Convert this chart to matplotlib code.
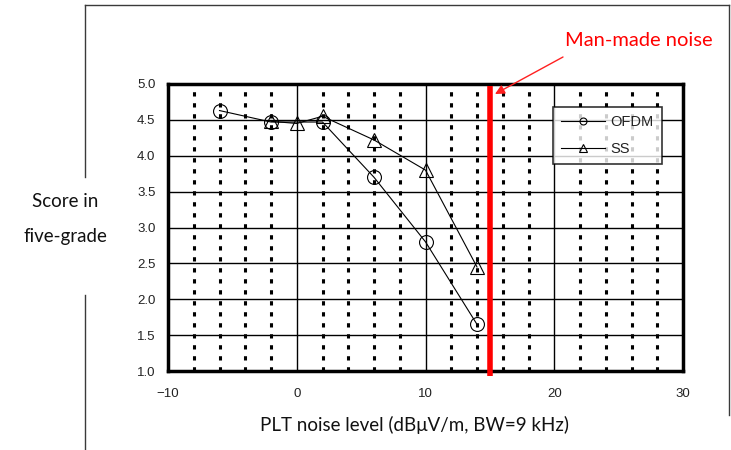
import matplotlib
matplotlib.use("Agg")
import matplotlib.pyplot as plt
from matplotlib.lines import Line2D
import numpy as np

# Data
ofdm_x = [-6, -2, 2, 6, 10, 14]
ofdm_y = [4.63, 4.47, 4.47, 3.70, 2.80, 1.65]
ss_x = [-2, 0, 2, 6, 10, 14]
ss_y = [4.48, 4.45, 4.55, 4.22, 3.80, 2.45]
man_made_x = 15
xticks = [-10, 0, 10, 20, 30]
yticks = [1.0, 1.5, 2.0, 2.5, 3.0, 3.5, 4.0, 4.5, 5.0]
minor_x = [v for v in range(-8, 30, 2) if v % 10 != 0]

W, H = 731, 450
fig = plt.figure(figsize=(W / 100, H / 100), dpi=100)
fig.patch.set_facecolor("white")

def fx(px):
    return px / W

def fy(py):
    return 1 - py / H

# outer frame
frame_kw = dict(color="#3a3a3a", lw=1.0, transform=fig.transFigure, clip_on=False)
fig.add_artist(Line2D([fx(85), fx(729)], [fy(5), fy(5)], **frame_kw))
fig.add_artist(Line2D([fx(729), fx(729)], [fy(5), fy(415)], **frame_kw))
fig.add_artist(Line2D([fx(85), fx(85)], [fy(5), fy(177)], **frame_kw))
fig.add_artist(Line2D([fx(85), fx(85)], [fy(295), fy(450)], **frame_kw))

left, right, top, bottom = 168, 683, 84, 371
ax = fig.add_axes([fx(left), fy(bottom), (right - left) / W, (bottom - top) / H])
ax.set_xlim(-10, 30)
ax.set_ylim(1.0, 5.0)

# grid
for v in minor_x:
    ax.axvline(v, color="black", lw=2.2, ls=(0, (1.4, 2.2)), zorder=1)
for v in xticks[1:-1]:
    ax.axvline(v, color="black", lw=1.0, zorder=1)
for v in yticks[1:-1]:
    ax.axhline(v, color="black", lw=1.0, zorder=1)

for s in ax.spines.values():
    s.set_linewidth(2.5)
    s.set_color("black")

ax.plot(ofdm_x, ofdm_y, color="black", lw=0.8, marker="o", ms=10,
        mfc="none", mec="black", mew=0.8, zorder=3)
ax.plot(ss_x, ss_y, color="black", lw=0.8, marker="^", ms=10,
        mfc="none", mec="black", mew=0.8, zorder=3)

ax.plot([man_made_x, man_made_x], [0.93, 4.97], color="#ff0000", lw=4.0,
        solid_capstyle="butt", clip_on=False, zorder=4)

ax.set_xticks(xticks)
ax.set_yticks(yticks)
ax.set_xticklabels([f"{v}" if v >= 0 else f"\u2212{-v}" for v in xticks],
                   fontfamily="Liberation Sans", fontsize=9.5, color="#222222")
ax.set_yticklabels([f"{v:.1f}" for v in yticks],
                   fontfamily="Liberation Sans", fontsize=9.5, color="#222222")
ax.tick_params(axis="y", length=0, pad=9)
ax.tick_params(axis="x", length=0, pad=12)

# legend
h1 = Line2D([], [], color="black", lw=0.8, marker="o", ms=5, mfc="none", mew=0.8)
h2 = Line2D([], [], color="black", lw=0.8, marker="^", ms=6, mfc="none", mew=0.8)
leg = ax.legend([h1, h2], ["OFDM", "SS"], loc="upper left",
                bbox_to_anchor=((553 - left) / (right - left), 1 - (107 - top) / (bottom - top)),
                prop={"family": "Liberation Sans", "size": 10.5},
                frameon=True, fancybox=False, edgecolor="black",
                handlelength=3.0, handletextpad=0.4, borderpad=0.55,
                labelspacing=0.9, borderaxespad=0)
leg.get_frame().set_linewidth(1.2)
leg.set_zorder(5)
for t in leg.get_texts():
    t.set_color("#222222")

# labels
fig.text(fx(415), fy(425), "PLT noise level (dBμV/m, BW=9 kHz)",
         ha="center", va="center", fontsize=13.5, fontfamily="Lato", color="#111111")
fig.text(fx(65), fy(219), "Score in\nfive-grade", ha="center", va="center",
         fontsize=13.5, fontfamily="Lato", color="#111111", linespacing=2.3)

# annotation
fig.text(fx(639), fy(40), "Man-made noise", ha="center", va="center",
         fontsize=14.5, fontfamily="Lato", color="#ff0000")
ax.annotate("", xy=(fx(495), fy(94)), xycoords="figure fraction",
            xytext=(fx(563), fy(57)), textcoords="figure fraction",
            arrowprops=dict(arrowstyle="-|>", color="#ff2020", lw=1.0,
                            mutation_scale=14, shrinkA=0, shrinkB=0),
            annotation_clip=False, zorder=6)

fig.savefig("out.png", dpi=100, facecolor="white")
